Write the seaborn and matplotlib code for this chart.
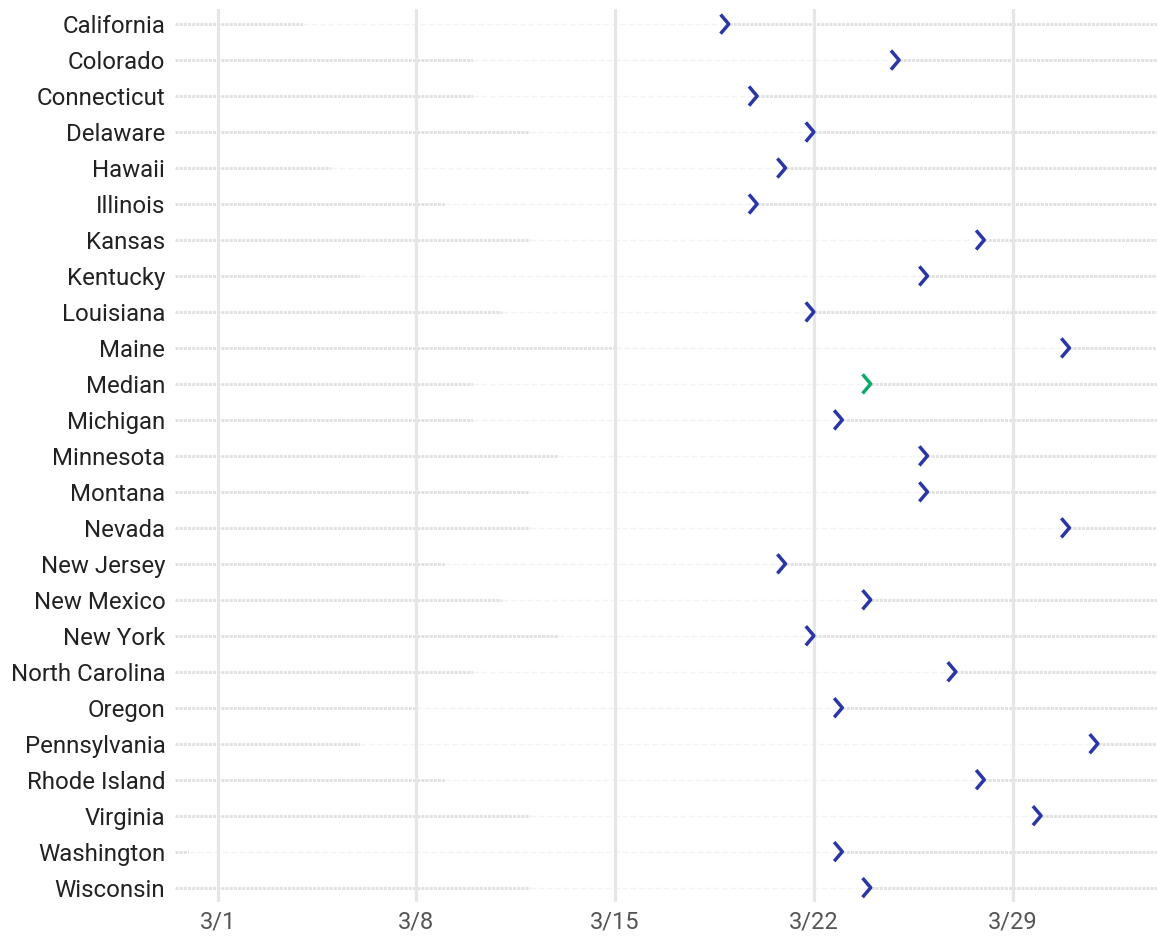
import pandas as pd
import seaborn as sns
import matplotlib.pyplot as plt
from matplotlib.path import Path
from matplotlib.markers import MarkerStyle

# -----------------------------------------------------------------------------
# Data
# -----------------------------------------------------------------------------
states = [
    "California", "Colorado", "Connecticut", "Delaware", "Hawaii", "Illinois",
    "Kansas", "Kentucky", "Louisiana", "Maine", "Median", "Michigan",
    "Minnesota", "Montana", "Nevada", "New Jersey", "New Mexico", "New York",
    "North Carolina", "Oregon", "Pennsylvania", "Rhode Island", "Virginia",
    "Washington", "Wisconsin",
]
first_date = [
    "2020-03-04", "2020-03-10", "2020-03-10", "2020-03-12", "2020-03-05",
    "2020-03-09", "2020-03-12", "2020-03-06", "2020-03-11", "2020-03-15",
    "2020-03-10", "2020-03-10", "2020-03-13", "2020-03-12", "2020-03-12",
    "2020-03-09", "2020-03-11", "2020-03-13", "2020-03-10", "2020-03-08",
    "2020-03-06", "2020-03-09", "2020-03-12", "2020-02-29", "2020-03-12",
]
order_date = [
    "2020-03-19", "2020-03-25", "2020-03-20", "2020-03-22", "2020-03-21",
    "2020-03-20", "2020-03-28", "2020-03-26", "2020-03-22", "2020-03-31",
    "2020-03-24", "2020-03-23", "2020-03-26", "2020-03-26", "2020-03-31",
    "2020-03-21", "2020-03-24", "2020-03-22", "2020-03-27", "2020-03-23",
    "2020-04-01", "2020-03-28", "2020-03-30", "2020-03-23", "2020-03-24",
]
tick_dates = ["2020-03-01", "2020-03-08", "2020-03-15", "2020-03-22", "2020-03-29"]
tick_labels = ["3/1", "3/8", "3/15", "3/22", "3/29"]

df = pd.DataFrame({
    "state": states,
    "first": pd.to_datetime(first_date),
    "order": pd.to_datetime(order_date),
})
df["row"] = range(len(df))
df["is_median"] = df["state"] == "Median"

BLUE = "#2a35a6"
GREEN = "#0fa86b"
DOT = "#e0e0e0"
FAINT = "#f3f3f3"
GRID = "#e6e6e6"

# -----------------------------------------------------------------------------
# Figure
# -----------------------------------------------------------------------------
sns.set_theme(style="white")
plt.rcParams["font.family"] = ["Roboto", "DejaVu Sans"]

fig = plt.figure(figsize=(11.57, 9.36), dpi=100)
ax = fig.add_axes([0.1513, 0.0363, 0.8487, 0.9541])

x_left = pd.Timestamp("2020-02-28 12:00")
x_right = pd.Timestamp("2020-04-03 02:00")

dotted = (0, (1.1, 0.4))

# dotted before first date and after order date, faint dashed in between
ax.hlines(df["row"], x_left, df["first"], color=DOT, lw=2,
          linestyles=[dotted], zorder=0.5)
ax.hlines(df["row"], df["order"], x_right, color=DOT, lw=2,
          linestyles=[dotted], zorder=0.5)
ax.hlines(df["row"], df["first"], df["order"], color="white", lw=3,
          zorder=1.5)
ax.hlines(df["row"], df["first"], df["order"], color=FAINT, lw=1,
          linestyles=[(0, (4, 2))], zorder=1.6)

# chevron marker with its tip on the data point
chevron = Path([(-0.85, 1.0), (0.0, 0.0), (-0.85, -1.0)],
               [Path.MOVETO, Path.LINETO, Path.LINETO])
marker = MarkerStyle(chevron, fillstyle="none")
marker._joinstyle = "miter"

sns.scatterplot(data=df[~df["is_median"]], x="order", y="row", ax=ax,
                marker=marker, s=190, color=BLUE, linewidth=2.5, zorder=3)
sns.scatterplot(data=df[df["is_median"]], x="order", y="row", ax=ax,
                marker=marker, s=190, color=GREEN, linewidth=2.5, zorder=3)

# axes styling
ax.set_xlim(x_left, x_right)
ax.set_ylim(len(states) - 1 + 0.4, -0.42)
ax.set_xticks(pd.to_datetime(tick_dates))
ax.set_xticklabels(tick_labels)
ax.set_yticks(df["row"])
ax.set_yticklabels(states)
ax.set_xlabel("")
ax.set_ylabel("")

ax.grid(axis="x", color=GRID, lw=2.3, zorder=1)
ax.grid(axis="y", visible=False)
ax.set_axisbelow(False)
for sp in ax.spines.values():
    sp.set_visible(False)

ax.tick_params(axis="y", length=0, pad=7, labelsize=17.3, labelcolor="#222222")
ax.tick_params(axis="x", length=0, pad=6, labelsize=17, labelcolor="#555555")

fig.savefig("out.png", dpi=100)
plt.close()
